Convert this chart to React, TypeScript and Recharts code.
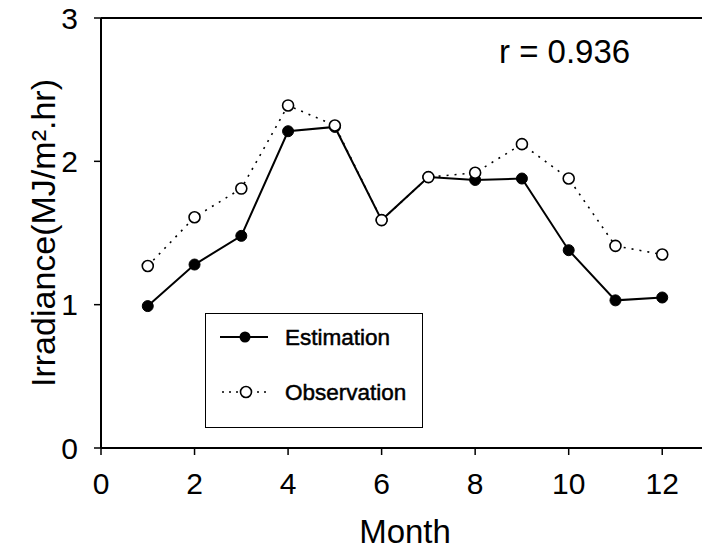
import React from 'react'
import {
    LineChart,
    Line,
    XAxis,
    YAxis,
    ReferenceLine,
    Label
} from 'recharts'

// values
const months = [1, 2, 3, 4, 5, 6, 7, 8, 9, 10, 11, 12]
const estimation = [0.99, 1.28, 1.48, 2.21, 2.24, 1.59, 1.89, 1.87, 1.88, 1.38, 1.03, 1.05]
const observation = [1.27, 1.61, 1.81, 2.39, 2.25, 1.59, 1.89, 1.92, 2.12, 1.88, 1.41, 1.35]
const xTicks = [0, 2, 4, 6, 8, 10, 12]
const yTicks = [0, 1, 2, 3]
const rText = 'r = 0.936'

const data = months.map((m, i) => ({
    month: m,
    est: estimation[i],
    obs: observation[i]
}))

const FONT = '"Liberation Sans", Arial, Helvetica, sans-serif'

// legend box drawn over the plot, like the original figure
const LegendBox = () => (
    <div
        style={{
            position: 'absolute',
            left: 205,
            top: 313,
            width: 218,
            height: 115,
            border: '1.5px solid #000',
            boxSizing: 'border-box',
            background: '#fff'
        }}
    >
        <svg width={216} height={112} style={{ position: 'absolute', left: 0, top: 0 }}>
            <line x1={14} x2={62} y1={23} y2={23} stroke="#000" strokeWidth={2} />
            <circle cx={39} cy={23} r={5.5} fill="#000" />
            <text x={79} y={31} fontSize={22.5} fontFamily={FONT} fill="#000" stroke="#000" strokeWidth={0.5}>
                Estimation
            </text>
            <line x1={16} x2={62} y1={78} y2={78} stroke="#000" strokeWidth={1.6} strokeDasharray="2 5" />
            <circle cx={40} cy={78} r={5.5} fill="#fff" stroke="#000" strokeWidth={1.6} />
            <text x={79} y={86} fontSize={22.5} fontFamily={FONT} fill="#000" stroke="#000" strokeWidth={0.5}>
                Observation
            </text>
        </svg>
    </div>
)

const YTitle = ({ viewBox }: any) => {
    const cy = viewBox.y + viewBox.height / 2
    return (
        <text
            x={43}
            y={cy}
            transform={`rotate(-90, 43, ${cy})`}
            textAnchor="middle"
            dominantBaseline="central"
            fontSize={34}
            fontFamily={FONT}
            fill="#000"
        >
            Irradiance(MJ/m².hr)
        </text>
    )
}

const XTitle = ({ viewBox }: any) => (
    <text
        x={viewBox.x + viewBox.width / 2}
        y={543}
        textAnchor="middle"
        fontSize={33}
        fontFamily={FONT}
        fill="#000"
    >
        Month
    </text>
)

export default function App() {
    return (
        <div
            style={{
                position: 'absolute',
                left: 0,
                top: 0,
                width: 702,
                height: 551,
                overflow: 'hidden',
                background: '#fff',
                fontFamily: FONT
            }}
        >
            <LineChart
                width={720}
                height={551}
                data={data}
                margin={{ top: 18, right: 11, left: 0, bottom: 0 }}
            >
                <XAxis
                    type="number"
                    dataKey="month"
                    domain={[0, 13]}
                    ticks={xTicks}
                    height={103}
                    tickSize={7}
                    tickMargin={18}
                    axisLine={{ stroke: '#000', strokeWidth: 2 }}
                    tickLine={{ stroke: '#000', strokeWidth: 1.5 }}
                    tick={{ fill: '#000', fontSize: 30, fontFamily: FONT }}
                >
                    <Label content={<XTitle />} />
                </XAxis>
                <YAxis
                    type="number"
                    domain={[0, 3]}
                    ticks={yTicks}
                    width={101}
                    tickSize={7}
                    tickMargin={16}
                    axisLine={{ stroke: '#000', strokeWidth: 2 }}
                    tickLine={{ stroke: '#000', strokeWidth: 1.5 }}
                    tick={{ fill: '#000', fontSize: 30, fontFamily: FONT }}
                >
                    <Label content={<YTitle />} />
                </YAxis>
                <ReferenceLine y={3} stroke="#000" strokeWidth={2} />
                <ReferenceLine x={13} stroke="#000" strokeWidth={2} />
                <Line
                    dataKey="est"
                    name="Estimation"
                    type="linear"
                    stroke="#000"
                    strokeWidth={2}
                    dot={{ r: 5.5, fill: '#000', stroke: '#000', strokeWidth: 1 }}
                    isAnimationActive={false}
                />
                <Line
                    dataKey="obs"
                    name="Observation"
                    type="linear"
                    stroke="#000"
                    strokeWidth={1.6}
                    strokeDasharray="2 6"
                    dot={{ r: 5.5, fill: '#fff', stroke: '#000', strokeWidth: 1.6, strokeDasharray: '' }}
                    isAnimationActive={false}
                />
            </LineChart>
            <LegendBox />
            <svg width={702} height={551} style={{ position: 'absolute', left: 0, top: 0, pointerEvents: 'none' }}>
                <text x={499} y={63} fontSize={33} fontFamily={FONT} fill="#000">
                    {rText}
                </text>
            </svg>
        </div>
    )
}
